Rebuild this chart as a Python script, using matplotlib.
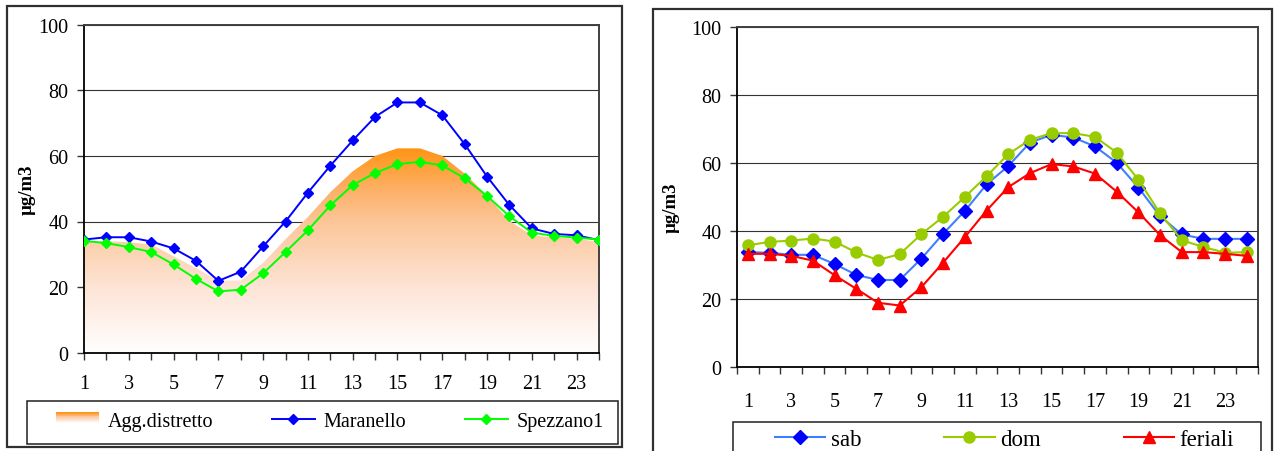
import numpy as np
import matplotlib
matplotlib.use("Agg")
import matplotlib.pyplot as plt
from matplotlib.patches import Rectangle, Patch
from matplotlib.lines import Line2D
from matplotlib.colors import LinearSegmentedColormap
from matplotlib.legend_handler import HandlerBase

plt.rcParams['font.family'] = ['Liberation Serif', 'DejaVu Serif']

# ---------------- data ----------------
hours = list(range(1, 25))
xtick_labels = [str(h) if h % 2 == 1 else '' for h in hours]
yticks = [0, 20, 40, 60, 80, 100]

agg_distretto = [33.8, 34.0, 33.7, 33.0, 29.4, 25.8, 22.0, 22.0, 27.4, 34.6, 41.4, 48.9,
                 55.3, 60.0, 62.3, 62.3, 60.0, 54.6, 47.9, 40.2, 35.8, 35.1, 34.8, 33.7]
maranello = [34.5, 35.2, 35.2, 33.9, 31.8, 28.0, 21.9, 24.7, 32.4, 40.0, 48.8, 57.0,
             64.7, 71.9, 76.3, 76.3, 72.4, 63.6, 53.7, 45.0, 37.9, 36.2, 35.8, 34.3]
spezzano1 = [34.1, 33.4, 32.2, 30.7, 26.9, 22.5, 18.7, 19.2, 24.2, 30.7, 37.3, 44.9,
             51.1, 54.8, 57.5, 58.2, 57.1, 53.2, 47.8, 41.6, 36.6, 35.6, 35.1, 34.5]

sab = [33.7, 33.5, 32.9, 32.9, 30.2, 27.0, 25.5, 25.5, 31.8, 39.1, 45.8, 53.6,
       59.0, 65.9, 68.2, 67.4, 64.8, 60.0, 52.7, 44.3, 38.9, 37.6, 37.6, 37.6]
dom = [35.7, 36.7, 37.1, 37.7, 36.8, 33.6, 31.4, 33.1, 39.0, 44.1, 49.9, 56.0,
       62.5, 66.7, 68.7, 68.7, 67.6, 63.0, 55.0, 45.1, 37.2, 35.2, 33.5, 33.7]
feriali = [33.2, 33.2, 32.6, 31.2, 26.9, 22.9, 18.8, 18.0, 23.4, 30.6, 38.1, 45.9,
           52.8, 56.9, 59.6, 58.9, 56.8, 51.5, 45.4, 38.7, 33.7, 33.7, 33.2, 32.6]

ylabel = 'µg/m3'

# ---------------- figure ----------------
W, H = 1275, 452
fig = plt.figure(figsize=(W / 100, H / 100), dpi=100)

def fx(px):
    return px / W

def fy(py):
    return 1 - py / H

# outer frames
fig.add_artist(Rectangle((fx(7), fy(448)), fx(622) - fx(7), fy(7.3) - fy(448),
                         transform=fig.transFigure, fill=False, lw=1.6, ec='#303030'))
fig.add_artist(Rectangle((fx(652.7), fy(470)), fx(1271.7) - fx(652.7), fy(10) - fy(470),
                         transform=fig.transFigure, fill=False, lw=1.6, ec='#303030'))

grad_cmap = LinearSegmentedColormap.from_list(
    'agg', [(0.0, (1, 1, 1)),
            (0.32, (253/255, 228/255, 214/255)),
            (0.64, (252/255, 198/255, 152/255)),
            (0.80, (253/255, 176/255, 102/255)),
            (1.0, (255/255, 148/255, 20/255))])


def style_axes(ax):
    ax.set_ylim(0, 100)
    ax.set_yticks(yticks)
    ax.tick_params(axis='y', direction='out', length=5, width=1, pad=6, labelsize=14.5,
                   color='#333333')
    ax.grid(axis='y', color='#333333', lw=0.8, zorder=0)
    ax.set_axisbelow(True)
    for s in ['left', 'bottom']:
        ax.spines[s].set_color('black')
        ax.spines[s].set_linewidth(1.3)
    for s in ['top', 'right']:
        ax.spines[s].set_color('#404040')
        ax.spines[s].set_linewidth(1.4)


# ---------------- left chart ----------------
axL = fig.add_axes([fx(84), fy(353.7), fx(599) - fx(84), fy(25.7) - fy(353.7)])
style_axes(axL)
poly = axL.fill_between(hours, agg_distretto, 0, facecolor='none', edgecolor='none')
top = max(agg_distretto)
grad = np.linspace(0, 1, 256).reshape(-1, 1)
img = axL.imshow(grad, extent=[hours[0], hours[-1], 0, top], aspect='auto',
                 origin='lower', cmap=grad_cmap, zorder=1.5, interpolation='bilinear')
img.set_clip_path(poly.get_paths()[0], transform=axL.transData)
axL.plot(hours, maranello, color='#0000FF', lw=1.4, marker='D', ms=5, zorder=3)
axL.plot(hours, spezzano1, color='#00FF00', lw=1.4, marker='D', ms=5, zorder=3)
axL.set_xlim(hours[0], hours[-1])
axL.set_ylim(0, 100)
axL.set_xticks(hours)
axL.set_xticklabels(xtick_labels)
axL.tick_params(axis='x', direction='out', length=5, width=1, pad=10, labelsize=14.5,
                color='#333333')
axL.set_ylabel(ylabel, fontsize=13.5, fontweight='bold')
axL.yaxis.set_label_coords(-0.094, 0.5)

# left legend
fig.add_artist(Rectangle((fx(27), fy(445)), fx(617.7) - fx(27), fy(401.7) - fy(445),
                         transform=fig.transFigure, fill=False, lw=1.1, ec='#202020'))


class GradHandler(HandlerBase):
    def create_artists(self, legend, orig_handle, xdescent, ydescent, width, height,
                       fontsize, trans):
        n = 14
        arts = []
        h = height * 0.8
        y0 = -ydescent + (height - h) / 2
        for i in range(n):
            c = grad_cmap(1 - i / (n - 1))
            arts.append(Rectangle((-xdescent, y0 + h * (1 - (i + 1) / n)), width, h / n + 0.3,
                                  facecolor=c, edgecolor='none', transform=trans))
        return arts


agg_handle = Patch(facecolor='orange')
h_mar = Line2D([], [], color='#0000FF', lw=1.4, marker='D', ms=5)
h_spe = Line2D([], [], color='#00FF00', lw=1.4, marker='D', ms=5)
fig.legend([agg_handle, h_mar, h_spe], ['Agg.distretto', 'Maranello', 'Spezzano1'],
           handler_map={Patch: GradHandler()}, loc='center left',
           bbox_to_anchor=(fx(55.7), fy(422)), bbox_transform=fig.transFigure,
           ncol=3, frameon=False, fontsize=14.5, handlelength=2.15, handletextpad=0.43,
           columnspacing=2.9, borderpad=0, borderaxespad=0)

# ---------------- right chart ----------------
axR = fig.add_axes([fx(737), fy(367.7), fx(1257.7) - fx(737), fy(27.7) - fy(367.7)])
style_axes(axR)
axR.plot(hours, sab, color='#3F7FFF', lw=1.5, marker='D', ms=7.5, mfc='#0000FF',
         mec='#0000FF', zorder=3)
axR.plot(hours, dom, color='#99CC00', lw=1.5, marker='o', ms=8, mfc='#99CC00',
         mec='#99CC00', zorder=3)
axR.plot(hours, feriali, color='#FF0000', lw=1.5, marker='^', ms=9, mfc='#FF0000',
         mec='#FF0000', zorder=3)
axR.set_xlim(hours[0] - 0.5, hours[-1] + 0.5)
axR.set_xticks(hours)
axR.set_xticklabels(xtick_labels)
axR.tick_params(axis='x', which='major', length=0, pad=18, labelsize=14.5)
axR.set_xticks([h - 0.5 for h in hours] + [hours[-1] + 0.5], minor=True)
axR.tick_params(axis='x', which='minor', direction='out', length=5, width=1, color='#333333')
axR.set_ylabel(ylabel, fontsize=13.5, fontweight='bold')
axR.yaxis.set_label_coords(-0.110, 0.47)

fig.add_artist(Rectangle((fx(733), fy(470)), fx(1261) - fx(733), fy(422.7) - fy(470),
                         transform=fig.transFigure, fill=False, lw=1.1, ec='#202020'))
h_sab = Line2D([], [], color='#3F7FFF', lw=1.5, marker='D', ms=7.5, mfc='#0000FF', mec='#0000FF')
h_dom = Line2D([], [], color='#99CC00', lw=1.5, marker='o', ms=8)
h_fer = Line2D([], [], color='#FF0000', lw=1.5, marker='^', ms=9)
fig.legend([h_sab, h_dom, h_fer], ['sab', 'dom', 'feriali'], loc='center left',
           bbox_to_anchor=(fx(775), fy(440)), bbox_transform=fig.transFigure,
           ncol=3, frameon=False, fontsize=16.5, handlelength=2.2, handletextpad=0.25,
           columnspacing=3.6, borderpad=0, borderaxespad=0)

fig.savefig('out.png', dpi=100)
